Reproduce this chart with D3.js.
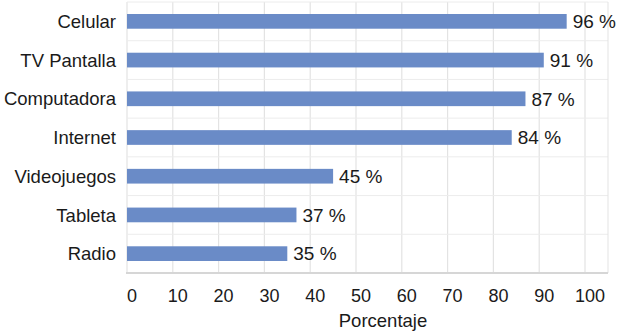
<!DOCTYPE html>
<html>
<head>
<meta charset="utf-8">
<script src="https://cdn.jsdelivr.net/npm/d3@7"></script>
<style>
  body { margin: 0; background: #fff; }
  svg { display: block; font-family: "Liberation Sans", Arial, sans-serif; }
</style>
</head>
<body>
<svg id="chart"></svg>
<script>
// data
const categories = ["Celular", "TV Pantalla", "Computadora", "Internet", "Videojuegos", "Tableta", "Radio"];
const values = [96, 91, 87, 84, 45, 37, 35];
const xTicks = [0, 10, 20, 30, 40, 50, 60, 70, 80, 90, 100];
const xTitle = "Porcentaje";

const width = 618, height = 332;
const margin = { top: 2, right: 33, bottom: 59, left: 127 };

const svg = d3.select("#chart").attr("width", width).attr("height", height);

const x = d3.scaleLinear().domain([0, 100]).range([margin.left, width - margin.right]);
const y = d3.scaleBand().domain(categories).range([margin.top, height - margin.bottom]).paddingInner(0.62).paddingOuter(0.31);

// vertical gridlines
svg.append("g").selectAll("line")
  .data(xTicks)
  .join("line")
  .attr("x1", d => x(d)).attr("x2", d => x(d))
  .attr("y1", margin.top).attr("y2", height - margin.bottom)
  .attr("stroke", "#e3e3e3").attr("stroke-width", 1.2);

// horizontal gridlines between categories
const step = y.step();
const hLines = d3.range(categories.length + 1).map(i => margin.top + i * step);
svg.append("g").selectAll("line")
  .data(hLines)
  .join("line")
  .attr("x1", margin.left).attr("x2", width - 10)
  .attr("y1", d => d).attr("y2", d => d)
  .attr("stroke", "#ececec").attr("stroke-width", 1);

// plot frame: right edge + bottom
svg.append("line")
  .attr("x1", width - 10).attr("x2", width - 10)
  .attr("y1", margin.top).attr("y2", height - margin.bottom)
  .attr("stroke", "#e3e3e3");
svg.append("line")
  .attr("x1", margin.left - 1).attr("x2", width - 10)
  .attr("y1", height - margin.bottom).attr("y2", height - margin.bottom)
  .attr("stroke", "#d6d6d6").attr("stroke-width", 2);

// bars
svg.append("g").selectAll("rect")
  .data(values)
  .join("rect")
  .attr("x", x(0))
  .attr("y", (d, i) => y(categories[i]))
  .attr("width", d => x(d) - x(0))
  .attr("height", y.bandwidth())
  .attr("fill", "#6a8bc7");

// value labels
svg.append("g").selectAll("text")
  .data(values)
  .join("text")
  .attr("x", d => x(d) + 6)
  .attr("y", (d, i) => y(categories[i]) + y.bandwidth() / 2)
  .attr("dy", "0.36em")
  .attr("font-size", "19px")
  .attr("fill", "#1a1a1a")
  .text(d => d + " %");

// category labels
svg.append("g").selectAll("text")
  .data(categories)
  .join("text")
  .attr("x", 116)
  .attr("y", d => y(d) + y.bandwidth() / 2)
  .attr("dy", "0.36em")
  .attr("text-anchor", "end")
  .attr("font-size", "18.5px")
  .attr("fill", "#1a1a1a")
  .text(d => d);

// x tick labels
svg.append("g").selectAll("text")
  .data(xTicks)
  .join("text")
  .attr("x", d => x(d) + 5)
  .attr("y", 302)
  .attr("text-anchor", "middle")
  .attr("font-size", "18px")
  .attr("fill", "#1a1a1a")
  .text(d => d);

// axis title
svg.append("text")
  .attr("x", 383)
  .attr("y", 327)
  .attr("text-anchor", "middle")
  .attr("font-size", "18.5px")
  .attr("fill", "#1a1a1a")
  .text(xTitle);
</script>
</body>
</html>
